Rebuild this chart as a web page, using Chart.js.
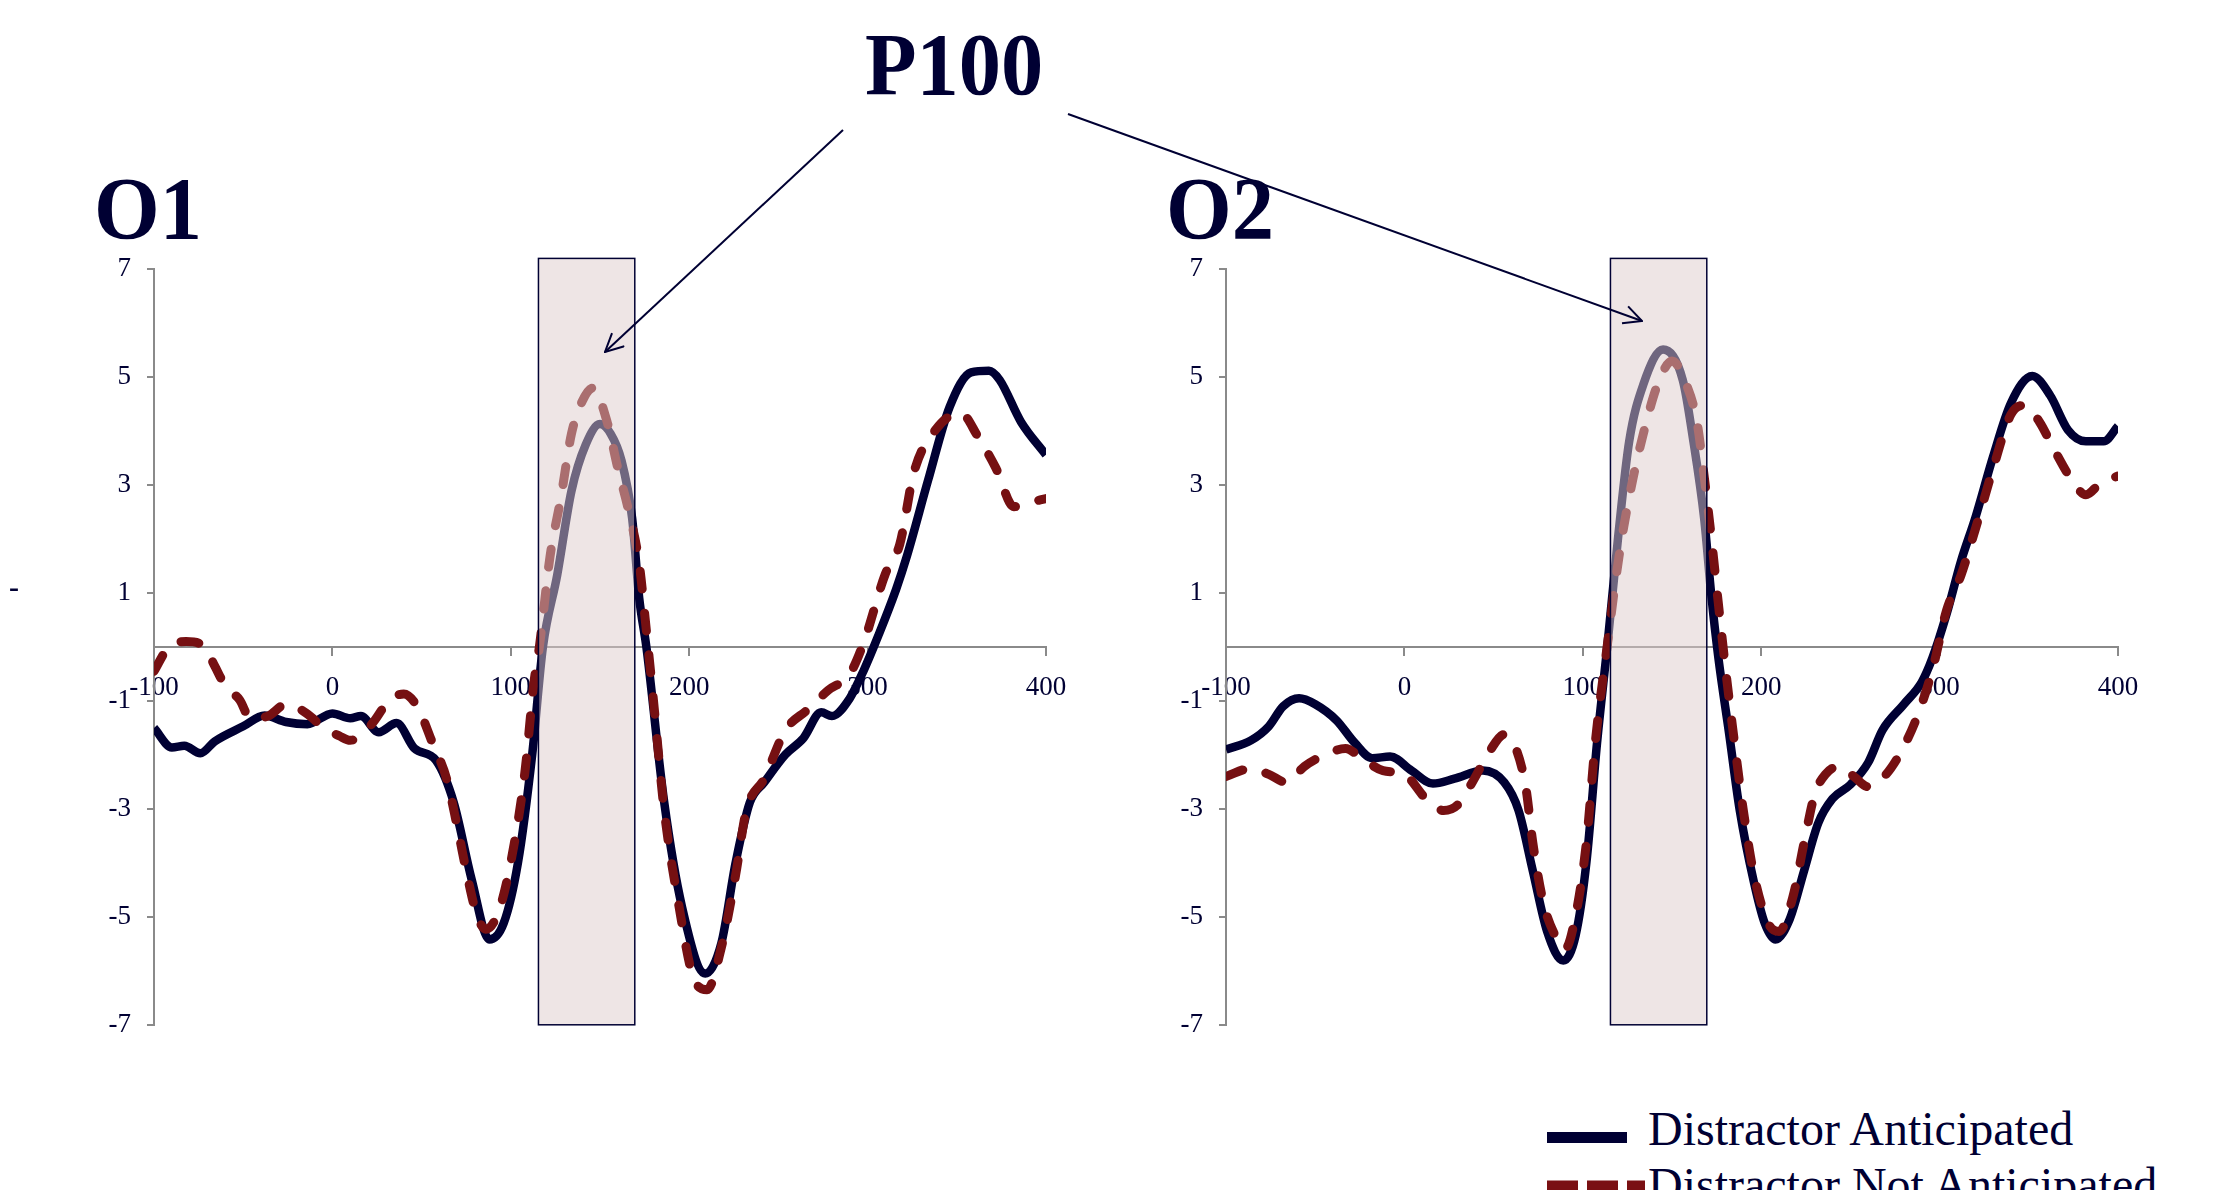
<!DOCTYPE html>
<html>
<head>
<meta charset="utf-8">
<script src="https://cdn.jsdelivr.net/npm/chart.js@4.4.0/dist/chart.umd.min.js"></script>
<style>
  html, body { margin: 0; padding: 0; background: #fff; }
  body { width: 2238px; height: 1190px; position: relative; overflow: hidden; font-family: 'Liberation Serif', 'Times New Roman', serif; color: #000033; }
  canvas { position: absolute; top: 237px; }
  #chartO1 { left: 0; }
  #chartO2 { left: 1072px; }
  .title { position: absolute; font-weight: bold; font-size: 88px; line-height: 1; white-space: nowrap; transform: scaleX(0.96); transform-origin: left top; }
  .legend { position: absolute; font-size: 48px; line-height: 1; white-space: nowrap; }
  svg { position: absolute; left: 0; top: 0; z-index: 5; pointer-events: none; }
</style>
</head>
<body>
<canvas id="chartO1" width="1100" height="820"></canvas>
<canvas id="chartO2" width="1100" height="820"></canvas>

<div class="title" style="left:865px; top:21px;">P100</div>
<div class="title" style="left:94px; top:165px;">O1</div>
<div class="title" style="left:1166px; top:165px;">O2</div>
<div class="legend" style="left:1648px; top:1105px;">Distractor Anticipated</div>
<div class="legend" style="left:1648px; top:1161px;">Distractor Not Anticipated</div>
<div style="position:absolute; left:9px; top:572px; font-size:30px; font-weight:bold; line-height:1;">-</div>

<svg width="2238" height="1190">
  <defs>
    <marker id="head" viewBox="0 0 20 20" refX="19" refY="10" markerWidth="20" markerHeight="20" markerUnits="userSpaceOnUse" orient="auto">
      <path d="M1,1 L19,10 L1,19" fill="none" stroke="#000033" stroke-width="2"/>
    </marker>
  </defs>
  <line x1="843" y1="130" x2="605" y2="352" stroke="#000033" stroke-width="2" marker-end="url(#head)"/>
  <line x1="1068" y1="114" x2="1642" y2="321" stroke="#000033" stroke-width="2" marker-end="url(#head)"/>
  <line x1="1547" y1="1137.5" x2="1627" y2="1137.5" stroke="#000033" stroke-width="11"/>
  <line x1="1547" y1="1186" x2="1645" y2="1186" stroke="#7A1013" stroke-width="11" stroke-dasharray="31 9"/>
</svg>

<script>
// time axis (ms) and amplitude ticks
const timeTicks = [-100, 0, 100, 200, 300, 400];
const ampTicks = [-7, -5, -3, -1, 1, 3, 5, 7];

// P100 analysis window (ms) and its vertical extent
const windowStart = 115.5;
const windowEnd = 169.5;
const windowTop = 7.2;
const windowBottom = -7;

// O1 - Distractor Anticipated
const timeO1Anticipated = [-100, -90, -83, -74, -66, -50, -38, -26, -14, 0, 10, 16, 26, 36, 46, 58, 68, 78, 88, 96, 104, 112, 118, 126, 134, 142, 150, 156, 162, 168, 172, 176, 186, 196, 209, 218, 226, 234, 242, 254, 264, 274, 280, 290, 298, 306, 316, 322, 334, 346, 358, 368, 374, 386, 400];
const valuesO1Anticipated = [-1.5, -1.86, -1.83, -1.97, -1.75, -1.47, -1.27, -1.39, -1.43, -1.23, -1.32, -1.28, -1.58, -1.41, -1.88, -2.1, -2.88, -4.3, -5.42, -5.12, -4.0, -1.99, 0, 1.33, 2.89, 3.75, 4.13, 3.95, 3.46, 2.39, 0.9, 0, -2.88, -4.82, -6.05, -5.49, -4.0, -2.88, -2.51, -1.99, -1.69, -1.21, -1.28, -0.95, -0.42, 0.21, 1.07, 1.68, 3.1, 4.45, 5.09, 5.12, 4.95, 4.17, 3.56];

// O1 - Distractor Not Anticipated
const timeO1NotAnticipated = [-100, -92, -82, -72, -66, -60, -52, -46, -36, -26, -14, -6, 4, 10, 22, 32, 40, 48, 56, 64, 70, 76, 81, 86, 94, 102, 108, 113, 116, 122, 128, 134, 140, 146, 154, 160, 166, 172, 176, 180, 186, 194, 202, 210, 218, 226, 232, 242, 254, 266, 278, 290, 298, 310, 318, 326, 338, 352, 362, 372, 382, 390, 400];
const valuesO1NotAnticipated = [-0.45, -0.01, 0.1, 0.02, -0.35, -0.72, -0.98, -1.32, -1.28, -1.06, -1.24, -1.47, -1.65, -1.73, -1.43, -0.98, -0.87, -1.13, -1.77, -2.44, -3.33, -4.3, -4.97, -5.23, -4.82, -3.63, -2.29, -0.65, 0, 1.68, 2.75, 3.95, 4.55, 4.8, 4.17, 3.31, 2.53, 1.54, 0.3, -1.0, -3.03, -4.75, -6.09, -6.35, -5.57, -4.23, -3.03, -2.44, -1.54, -1.17, -0.8, -0.5, 0.1, 1.36, 1.9, 3.24, 4.02, 4.34, 3.89, 3.31, 2.6, 2.67, 2.75];

// O2 - Distractor Anticipated
const timeO2Anticipated = [-100, -86, -76, -68, -59, -50, -38, -28, -18, -8, 4, 16, 28, 44, 56, 64, 72, 80, 89, 96, 102, 108, 114, 120, 126, 134, 145, 156, 162, 168, 172, 176, 182, 188, 196, 202, 208, 216, 224, 232, 240, 250, 260, 268, 280, 290, 296, 304, 312, 320, 330, 340, 352, 362, 372, 382, 392, 400];
const valuesO2Anticipated = [-1.9, -1.73, -1.47, -1.1, -0.95, -1.06, -1.36, -1.77, -2.06, -2.03, -2.29, -2.53, -2.44, -2.29, -2.51, -3.03, -4.15, -5.27, -5.81, -5.34, -4.0, -1.77, 0.1, 2.1, 3.81, 4.87, 5.51, 4.95, 3.81, 2.39, 0.97, -0.2, -1.6, -3.03, -4.37, -5.12, -5.42, -5.04, -4.15, -3.26, -2.81, -2.55, -2.14, -1.54, -1.06, -0.65, -0.2, 0.62, 1.59, 2.39, 3.53, 4.52, 5.02, 4.66, 4.02, 3.81, 3.81, 4.09];

// O2 - Distractor Not Anticipated
const timeO2NotAnticipated = [-100, -86, -76, -66, -56, -44, -33, -24, -12, 0, 12, 22, 30, 38, 48, 56, 62, 68, 72, 78, 85, 90, 96, 102, 107, 114, 118, 122, 128, 135, 142, 150, 158, 164, 168, 172, 176, 180, 184, 190, 196, 204, 210, 218, 224, 230, 236, 244, 252, 260, 270, 280, 288, 296, 304, 312, 320, 330, 340, 348, 356, 364, 374, 382, 390, 400];
const valuesO2NotAnticipated = [-2.4, -2.25, -2.36, -2.51, -2.21, -1.99, -1.88, -2.06, -2.29, -2.36, -2.81, -3.03, -2.92, -2.51, -1.92, -1.62, -1.84, -2.59, -3.63, -4.75, -5.38, -5.6, -4.97, -3.63, -1.77, 0.1, 1.14, 2.04, 3.1, 4.09, 4.87, 5.3, 4.87, 4.17, 3.17, 2.04, 0.8, -0.4, -1.5, -3.03, -4.23, -5.12, -5.27, -4.6, -3.63, -2.73, -2.36, -2.21, -2.4, -2.59, -2.36, -1.84, -1.24, -0.42, 0.69, 1.33, 2.18, 3.31, 4.31, 4.48, 4.17, 3.67, 3.1, 2.82, 3.03, 3.17];

const navy = '#000033';
const darkRed = '#761012';
const axisGray = '#8a8a8a';

function toPoints(times, values) {
  return times.map((t, i) => ({ x: t, y: values[i] }));
}

// shaded P100 window, drawn over the traces so they show through faded
const windowPlugin = {
  id: 'p100Window',
  afterDatasetsDraw(chart) {
    const ctx = chart.ctx;
    const x = chart.scales.x;
    const y = chart.scales.y;
    const left = x.getPixelForValue(windowStart);
    const right = x.getPixelForValue(windowEnd);
    const top = y.getPixelForValue(windowTop);
    const bottom = y.getPixelForValue(windowBottom);
    ctx.save();
    ctx.fillStyle = 'rgba(222, 204, 204, 0.5)';
    ctx.fillRect(left, top, right - left, bottom - top);
    ctx.strokeStyle = navy;
    ctx.lineWidth = 1.5;
    ctx.strokeRect(left, top, right - left, bottom - top);
    ctx.restore();
  }
};

function makeChart(id, anticipated, notAnticipated) {
  const tickFont = { family: "'Liberation Serif', 'Times New Roman', serif", size: 27 };
  return new Chart(document.getElementById(id), {
    type: 'line',
    data: {
      datasets: [{
        label: 'Distractor Anticipated',
        data: anticipated,
        borderColor: navy,
        borderWidth: 8.5,
        pointRadius: 0,
        cubicInterpolationMode: 'monotone',
        borderJoinStyle: 'round',
        order: 1
      }, {
        label: 'Distractor Not Anticipated',
        data: notAnticipated,
        borderColor: darkRed,
        borderWidth: 9,
        borderDash: [18, 24],
        borderCapStyle: 'round',
        pointRadius: 0,
        cubicInterpolationMode: 'monotone',
        order: 0
      }]
    },
    options: {
      responsive: false,
      animation: false,
      events: [],
      layout: { padding: { top: 0, right: 54, bottom: 0, left: 0 } },
      plugins: {
        legend: { display: false },
        tooltip: { enabled: false }
      },
      scales: {
        x: {
          type: 'linear',
          position: { y: 0 },
          min: timeTicks[0],
          max: timeTicks[timeTicks.length - 1],
          afterBuildTicks: (scale) => { scale.ticks = timeTicks.map(v => ({ value: v })); },
          ticks: { color: navy, font: tickFont, padding: 17, maxRotation: 0, autoSkip: false },
          grid: { drawOnChartArea: false, tickLength: 8, color: axisGray, lineWidth: 2 },
          border: { color: axisGray, width: 2 }
        },
        y: {
          min: ampTicks[0],
          max: ampTicks[ampTicks.length - 1],
          afterBuildTicks: (scale) => { scale.ticks = ampTicks.map(v => ({ value: v })); },
          afterFit: (scale) => { scale.width = 154; },
          ticks: { color: navy, font: tickFont, padding: 16 },
          grid: { drawOnChartArea: false, tickLength: 7, color: axisGray, lineWidth: 2 },
          border: { color: axisGray, width: 2 }
        }
      }
    },
    plugins: [windowPlugin]
  });
}

makeChart('chartO1', toPoints(timeO1Anticipated, valuesO1Anticipated), toPoints(timeO1NotAnticipated, valuesO1NotAnticipated));
makeChart('chartO2', toPoints(timeO2Anticipated, valuesO2Anticipated), toPoints(timeO2NotAnticipated, valuesO2NotAnticipated));
</script>
</body>
</html>
